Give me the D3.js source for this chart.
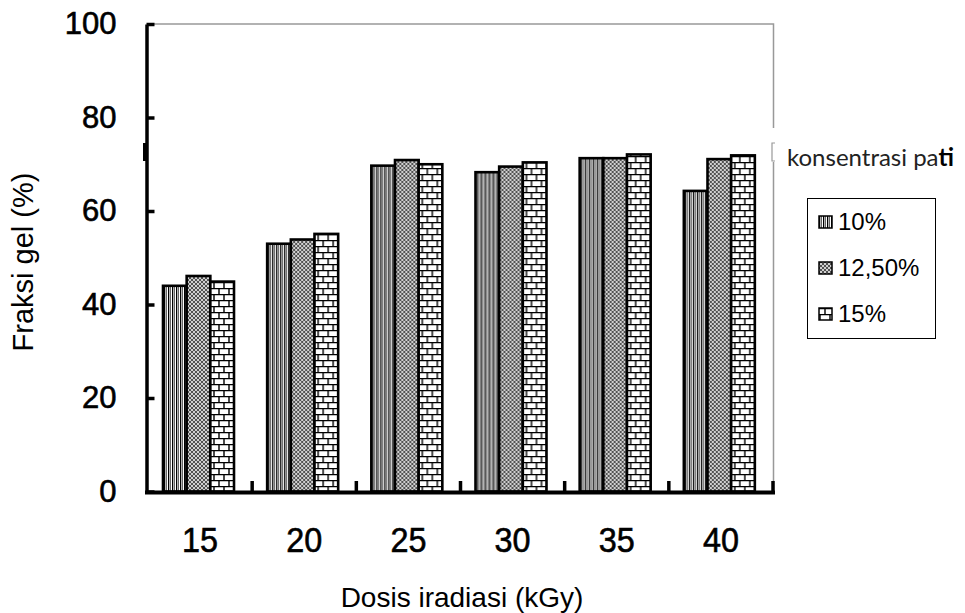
<!DOCTYPE html>
<html>
<head>
<meta charset="utf-8">
<script src="https://cdn.jsdelivr.net/npm/d3@7"></script>
<style>
  body { margin: 0; background: #fff; }
  svg { display: block; }
</style>
</head>
<body>
<script>
var w = 965;
var h = 613;

// data
var doses = ["15", "20", "25", "30", "35", "40"];
var seriesNames = ["10%", "12,50%", "15%"];
var pati10 = [44.0, 53.0, 69.7, 68.3, 71.3, 64.3];
var pati125 = [46.1, 53.9, 70.9, 69.5, 71.3, 71.1];
var pati15 = [44.9, 55.1, 70.0, 70.4, 72.1, 71.9];
var yTicks = [0, 20, 40, 60, 80, 100];

var seriesValues = [pati10, pati125, pati15];
var patternIds = ["pVert", "pCross", "pBrick"];

var svg = d3.select("body")
  .append("svg")
  .attr("width", w)
  .attr("height", h);

// fill patterns
var defs = svg.append("defs");

var pv = defs.append("pattern")
  .attr("id", "pVert")
  .attr("patternUnits", "userSpaceOnUse")
  .attr("width", 4).attr("height", 4);
pv.append("rect").attr("width", 4).attr("height", 4).attr("fill", "#fff");
pv.append("rect").attr("x", 0).attr("width", 1.3).attr("height", 4).attr("fill", "#000");
pv.append("rect").attr("x", 2).attr("width", 1).attr("height", 4).attr("fill", "#666");

var pc = defs.append("pattern")
  .attr("id", "pCross")
  .attr("patternUnits", "userSpaceOnUse")
  .attr("width", 4).attr("height", 4);
pc.append("rect").attr("width", 4).attr("height", 4).attr("fill", "#d0d0d0");
pc.append("path")
  .attr("d", "M0,0L4,4M4,0L0,4")
  .attr("stroke", "#444")
  .attr("stroke-width", 0.9);

var pb = defs.append("pattern")
  .attr("id", "pBrick")
  .attr("patternUnits", "userSpaceOnUse")
  .attr("width", 10).attr("height", 12);
pb.append("rect").attr("width", 10).attr("height", 12).attr("fill", "#fff");
pb.append("path")
  .attr("d", "M0,0.6H10M0,6.6H10M1,0V6.6M6,6.6V12")
  .attr("stroke", "#000")
  .attr("stroke-width", 1.4);

// scales
var x = d3.scaleBand()
  .domain(doses)
  .range([148, 773])
  .paddingInner(0)
  .paddingOuter(0);

var xSub = d3.scaleBand()
  .domain(seriesNames)
  .range([15, 86])
  .padding(0);

var y = d3.scaleLinear()
  .domain([0, 100])
  .range([491.5, 24]);

// gray frame (top and right)
svg.append("path")
  .attr("d", "M150,24H773.5V128")
  .attr("fill", "none")
  .attr("stroke", "#999")
  .attr("stroke-width", 1.5);
svg.append("path")
  .attr("d", "M775,143H772V161H775")
  .attr("fill", "none")
  .attr("stroke", "#999")
  .attr("stroke-width", 1.2);
svg.append("line")
  .attr("x1", 773.5).attr("x2", 773.5)
  .attr("y1", 162).attr("y2", 490)
  .attr("stroke", "#999")
  .attr("stroke-width", 1.5);

// bars
var groups = svg.selectAll("g.grp")
  .data(doses)
  .enter()
  .append("g")
  .attr("class", "grp")
  .attr("transform", function(d) { return "translate(" + x(d) + ",0)"; });

groups.selectAll("rect")
  .data(function(d, i) {
    return seriesNames.map(function(s, j) {
      return { s: s, v: seriesValues[j][i], p: patternIds[j] };
    });
  })
  .enter()
  .append("rect")
  .attr("x", function(d) { return xSub(d.s); })
  .attr("width", xSub.bandwidth())
  .attr("y", function(d) { return y(d.v); })
  .attr("height", function(d) { return y(0) - y(d.v); })
  .attr("fill", function(d) { return "url(#" + d.p + ")"; })
  .attr("stroke", "#000")
  .attr("stroke-width", 2.6);

// y axis, ticks pointing inward
var yAxis = svg.append("g")
  .attr("transform", "translate(146.5,0)")
  .call(d3.axisLeft(y).tickValues(yTicks).tickSize(-8).tickSizeOuter(0).tickPadding(30));
yAxis.select(".domain").attr("stroke-width", 3.5);
yAxis.selectAll(".tick line").attr("stroke-width", 3.5);
yAxis.selectAll(".tick text")
  .attr("font-family", "Liberation Sans, Arial, sans-serif")
  .attr("font-size", "31px")
  .attr("fill", "#000")
  .attr("stroke", "#000")
  .attr("stroke-width", 0.6);

// small notch on the left axis
svg.append("rect")
  .attr("x", 143).attr("y", 143)
  .attr("width", 3).attr("height", 18)
  .attr("fill", "#000");

// x axis, labels centred on groups
var xAxis = svg.append("g")
  .attr("transform", "translate(0,492.5)")
  .call(d3.axisBottom(x).tickSize(0).tickPadding(35));
xAxis.select(".domain")
  .attr("d", "M145,0H775")
  .attr("stroke-width", 4);
xAxis.selectAll(".tick text")
  .attr("font-family", "Liberation Sans, Arial, sans-serif")
  .attr("font-size", "35px")
  .attr("fill", "#000")
  .attr("stroke", "#000")
  .attr("stroke-width", 0.6)
  .attr("textLength", 36)
  .attr("lengthAdjust", "spacingAndGlyphs");

// tick marks between groups, pointing up
svg.selectAll("line.xtick")
  .data(doses)
  .enter()
  .append("line")
  .attr("class", "xtick")
  .attr("x1", function(d) { return x(d) + x.bandwidth(); })
  .attr("x2", function(d) { return x(d) + x.bandwidth(); })
  .attr("y1", 492)
  .attr("y2", 481)
  .attr("stroke", "#000")
  .attr("stroke-width", 3.5);

// axis titles
svg.append("text")
  .attr("x", 462)
  .attr("y", 607)
  .attr("text-anchor", "middle")
  .attr("font-family", "Liberation Sans, Arial, sans-serif")
  .attr("font-size", "28px")
  .text("Dosis iradiasi (kGy)");

svg.append("text")
  .attr("transform", "translate(33,262) rotate(-90)")
  .attr("text-anchor", "middle")
  .attr("font-family", "Liberation Sans, Arial, sans-serif")
  .attr("font-size", "29px")
  .text("Fraksi gel (%)");

// legend title
var lt = svg.append("text")
  .attr("x", 787)
  .attr("y", 166)
  .attr("font-family", "Lato, Open Sans, sans-serif")
  .attr("font-size", "24px")
  .attr("fill", "#222");
lt.append("tspan").text("konsentrasi pa");
lt.append("tspan").attr("font-weight", "bold").attr("fill", "#000").text("ti");

// legend box
svg.append("rect")
  .attr("x", 807.5).attr("y", 198.5)
  .attr("width", 128).attr("height", 140)
  .attr("fill", "#fff")
  .attr("stroke", "#000")
  .attr("stroke-width", 1);

var legend = svg.selectAll("g.leg")
  .data(seriesNames)
  .enter()
  .append("g")
  .attr("class", "leg")
  .attr("transform", function(d, i) { return "translate(819," + (222 + i * 46) + ")"; });

legend.append("rect")
  .attr("x", 0).attr("y", -6)
  .attr("width", 13).attr("height", 12)
  .attr("fill", function(d, i) { return "url(#" + patternIds[i] + ")"; })
  .attr("stroke", "#000")
  .attr("stroke-width", 1.5);

legend.append("text")
  .attr("x", 19)
  .attr("y", 8)
  .attr("font-family", "Liberation Sans, Arial, sans-serif")
  .attr("font-size", "24px")
  .text(function(d) { return d; });
</script>
</body>
</html>
